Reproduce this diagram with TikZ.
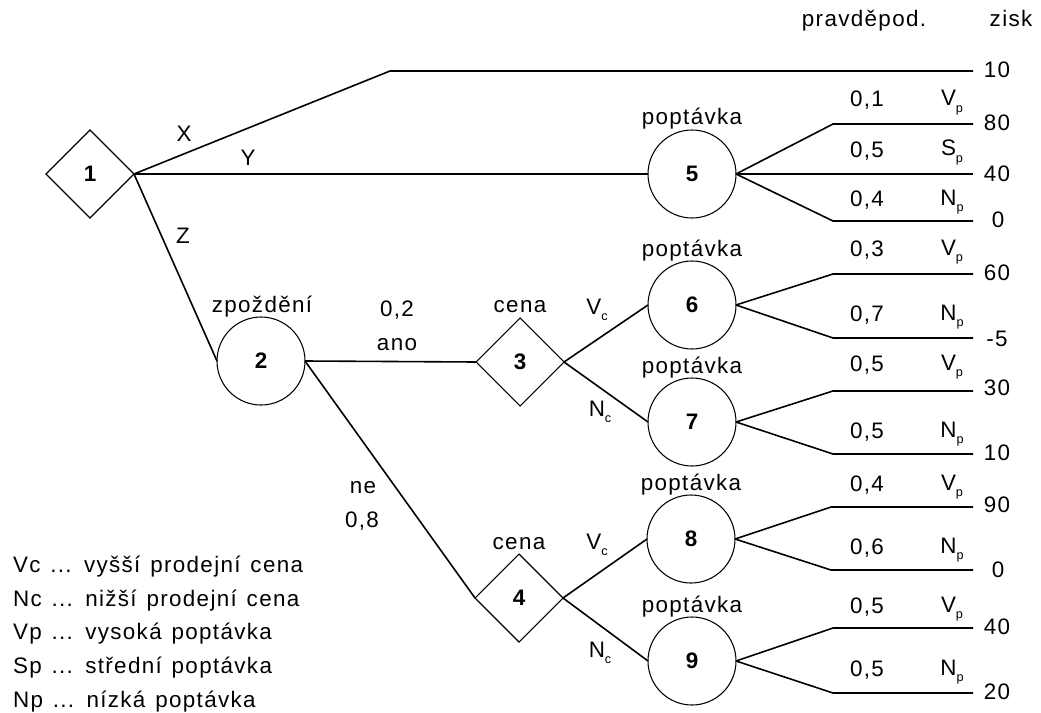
\documentclass[tikz,border=0pt]{standalone}
\usepackage{fontspec}
\setmainfont{Liberation Sans}[LetterSpace=6]
\usetikzlibrary{shapes.geometric}
% small lowered index letter (V_p, N_c, ...)
\newcommand\sbs[1]{\raisebox{-5pt}{\fontsize{9.5}{10}\selectfont #1}}
% wider interword space for the key
\newcommand\widespace{\spaceskip=1.3\fontdimen2\font\relax}

\begin{document}
\begin{tikzpicture}[x=0.75pt,y=-0.75pt,
  every node/.style={font=\fontsize{16.8}{19}\selectfont, inner sep=0pt, outer sep=0pt},
  decision/.style={draw, diamond, minimum width=66pt, minimum height=66pt,
    line width=0.8pt, font=\fontsize{16.8}{19}\selectfont\bfseries},
  chance/.style={draw, circle, minimum size=66pt,
    line width=0.8pt, font=\fontsize{16.8}{19}\selectfont\bfseries},
  branch/.style={line width=1.2pt},
  lbl/.style={anchor=base},
  legend/.style={anchor=base west, font=\fontsize{16.8}{19}\selectfont\widespace},
]
\useasboundingbox (0,0) rectangle (1041,713);

% decision and chance nodes
\node[decision] (n1) at (90,174) {1};
\node[chance]   (n2) at (261,361) {2};
\node[decision] (n3) at (520,362) {3};
\node[decision] (n4) at (519,598) {4};
\node[chance]   (n5) at (692,174) {5};
\node[chance]   (n6) at (692,305) {6};
\node[chance]   (n7) at (692,422) {7};
\node[chance]   (n8) at (691,539) {8};
\node[chance]   (n9) at (692,661) {9};

% bends and ends of the outcome branches
\coordinate (kx) at (390,71);  \coordinate (ex) at (973,71);
\coordinate (k5a) at (833,124); \coordinate (e5a) at (973,124);
\coordinate (e5b) at (973,174);
\coordinate (k5c) at (833,221); \coordinate (e5c) at (973,221);
\coordinate (k6a) at (833,274); \coordinate (e6a) at (973,274);
\coordinate (k6b) at (833,338); \coordinate (e6b) at (973,338);
\coordinate (k7a) at (833,391); \coordinate (e7a) at (973,391);
\coordinate (k7b) at (833,454); \coordinate (e7b) at (973,454);
\coordinate (k8a) at (831,507); \coordinate (e8a) at (973,507);
\coordinate (k8b) at (831,570); \coordinate (e8b) at (973,570);
\coordinate (k9a) at (833,628); \coordinate (e9a) at (973,628);
\coordinate (k9b) at (833,693); \coordinate (e9b) at (973,693);

% connectors
\draw[branch] (n1.east) -- (kx) -- (ex);
\draw[branch] (n1.east) -- (n5.west);
\draw[branch] (n1.east) -- (n2.west);
\draw[branch] (n2.east) -- (n3.west);
\draw[branch] (n2.east) -- (n4.west);
\draw[branch] (n3.east) -- (n6.west);
\draw[branch] (n3.east) -- (n7.west);
\draw[branch] (n4.east) -- (n8.west);
\draw[branch] (n4.east) -- (n9.west);
\draw[branch] (n5.east) -- (k5a) -- (e5a);
\draw[branch] (n5.east) -- (e5b);
\draw[branch] (n5.east) -- (k5c) -- (e5c);
\draw[branch] (n6.east) -- (k6a) -- (e6a);
\draw[branch] (n6.east) -- (k6b) -- (e6b);
\draw[branch] (n7.east) -- (k7a) -- (e7a);
\draw[branch] (n7.east) -- (k7b) -- (e7b);
\draw[branch] (n8.east) -- (k8a) -- (e8a);
\draw[branch] (n8.east) -- (k8b) -- (e8b);
\draw[branch] (n9.east) -- (k9a) -- (e9a);
\draw[branch] (n9.east) -- (k9b) -- (e9b);

% column headings
\node[lbl] (hp) at (864,27) {pravděpod.};
\node[lbl] (hz) at (1011,27) {zisk};

% branch labels
\node[lbl] (lx) at (184,142) {X};
\node[lbl] (ly) at (248,166) {Y};
\node[lbl] (lz) at (183,243) {Z};
\node[lbl] (t2) at (262,312) {zpoždění};
\node[lbl] (t3) at (520,312) {cena};
\node[lbl] (t4) at (519,549) {cena};
\node[lbl] (p23) at (397,316) {0,2};
\node[lbl] (a23) at (397,350) {ano};
\node[lbl] (a24) at (363,493) {ne};
\node[lbl] (p24) at (362,527) {0,8};
\node[lbl] (c36) at (597,314) {V\sbs{c}};
\node[lbl] (c37) at (600,416) {N\sbs{c}};
\node[lbl] (c48) at (597,549) {V\sbs{c}};
\node[lbl] (c49) at (600,657) {N\sbs{c}};
\node[lbl] (t5) at (692,125) {poptávka};
\node[lbl] (t6) at (692,256) {poptávka};
\node[lbl] (t7) at (692,373) {poptávka};
\node[lbl] (t8) at (691,490) {poptávka};
\node[lbl] (t9) at (692,612) {poptávka};

% probabilities and outcomes
\node[lbl] (p5a) at (867,107) {0,1}; \node[lbl] (s5a) at (952,106) {V\sbs{p}};
\node[lbl] (p5b) at (867,157) {0,5}; \node[lbl] (s5b) at (952,156) {S\sbs{p}};
\node[lbl] (p5c) at (867,206) {0,4}; \node[lbl] (s5c) at (952,205) {N\sbs{p}};
\node[lbl] (p6a) at (867,256) {0,3}; \node[lbl] (s6a) at (952,255) {V\sbs{p}};
\node[lbl] (p6b) at (867,321) {0,7}; \node[lbl] (s6b) at (952,320) {N\sbs{p}};
\node[lbl] (p7a) at (867,371) {0,5}; \node[lbl] (s7a) at (952,370) {V\sbs{p}};
\node[lbl] (p7b) at (867,438) {0,5}; \node[lbl] (s7b) at (952,437) {N\sbs{p}};
\node[lbl] (p8a) at (867,491) {0,4}; \node[lbl] (s8a) at (952,490) {V\sbs{p}};
\node[lbl] (p8b) at (867,554) {0,6}; \node[lbl] (s8b) at (952,553) {N\sbs{p}};
\node[lbl] (p9a) at (867,613) {0,5}; \node[lbl] (s9a) at (952,612) {V\sbs{p}};
\node[lbl] (p9b) at (867,676) {0,5}; \node[lbl] (s9b) at (952,675) {N\sbs{p}};

% profits
\node[lbl] (vx)  at (997,78)  {10};
\node[lbl] (v5a) at (997,131) {80};
\node[lbl] (v5b) at (997,181) {40};
\node[lbl] (v5c) at (998,227) {0};
\node[lbl] (v6a) at (997,280) {60};
\node[lbl] (v6b) at (997,346) {-5};
\node[lbl] (v7a) at (997,395) {30};
\node[lbl] (v7b) at (997,460) {10};
\node[lbl] (v8a) at (997,512) {90};
\node[lbl] (v8b) at (998,577) {0};
\node[lbl] (v9a) at (997,634) {40};
\node[lbl] (v9b) at (997,699) {20};

% legend
\node[legend] (g1) at (13,572) {Vc ... vyšší prodejní cena};
\node[legend] (g2) at (13,606) {Nc ... nižší prodejní cena};
\node[legend] (g3) at (13,639) {Vp ... vysoká poptávka};
\node[legend] (g4) at (13,673) {Sp ... střední poptávka};
\node[legend] (g5) at (13,707) {Np ... nízká poptávka};
\end{tikzpicture}
\end{document}
